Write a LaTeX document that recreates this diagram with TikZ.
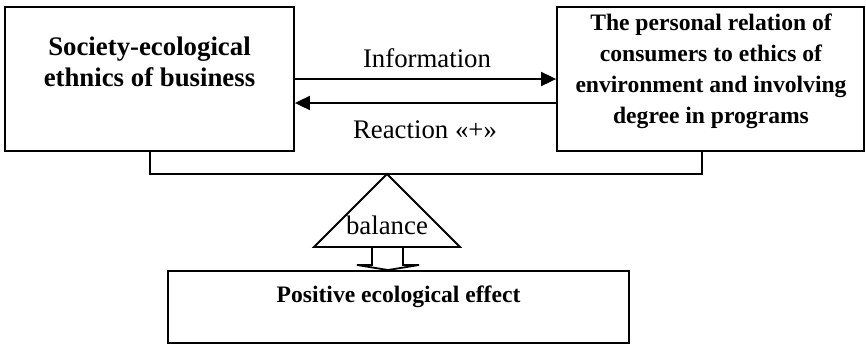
\documentclass[tikz,border=0pt]{standalone}
\usepackage{fontspec}
\setmainfont{Liberation Serif}
\usetikzlibrary{arrows.meta}
\begin{document}
\begin{tikzpicture}[x=0.5pt,y=-0.5pt,
  box/.style={draw,line width=0.9pt,minimum width=#1,inner sep=0pt},
  btxt/.style={font=\fontsize{13.4}{15.8}\selectfont\bfseries,align=center,inner sep=0pt},
  stxt/.style={font=\fontsize{11.8}{15.5}\selectfont\bfseries,align=center,inner sep=0pt},
  rtxt/.style={font=\fontsize{13.4}{16}\selectfont,inner sep=0pt},
  conn/.style={line width=0.9pt},
  arr/.style={line width=0.9pt,-{Triangle[length=7.5pt,width=7pt]}}]
\useasboundingbox (0,0) rectangle (866,344);
% boxes
\node[box=144.5pt,minimum height=72pt] (L) at (149.5,79) {};
\node[box=153.5pt,minimum height=72pt] (R) at (710.5,79) {};
\node[box=230.5pt,minimum height=36pt] (B) at (398.5,307) {};
% texts
\node[btxt] (Lt) at (149.5,62) {Society-ecological\\ethnics of business};
\node[stxt] (Rt) at (711,71) {The personal relation of\\consumers to ethics of\\environment and involving\\degree in programs};
\node[stxt] (Bt) at (398.5,297) {Positive ecological effect};
\node[rtxt] (info) at (427,58) {Information};
\node[rtxt] (react) at (425,130) {Reaction «+»};
% arrows
\coordinate (i1) at (L.east |- 0,79);
\coordinate (i2) at (R.west |- 0,79);
\coordinate (r1) at (R.west |- 0,103);
\coordinate (r2) at (L.east |- 0,103);
\draw[arr] (i1) -- (i2);
\draw[arr] (r1) -- (r2);
% bracket
\coordinate (b1) at (L.south -| 150,0);
\coordinate (b2) at (R.south -| 702,0);
\draw[conn] (b1) -- (150,174) -- (702,174) -- (b2);
% balance triangle
\coordinate (apex) at (387,174);
\coordinate (bl) at (314,247);
\coordinate (br) at (460,247);
\draw[conn,line join=miter] (apex) -- (bl) -- (br) -- cycle;
\node[rtxt] (bal) at (387,225) {balance};
% hollow arrow
\coordinate (tip) at (388,270);
\draw[conn,fill=white,line join=miter] (372,248) -- (372,265) -- (357,265) -- (tip) -- (419,265) -- (403,265) -- (403,248);
\end{tikzpicture}
\end{document}
